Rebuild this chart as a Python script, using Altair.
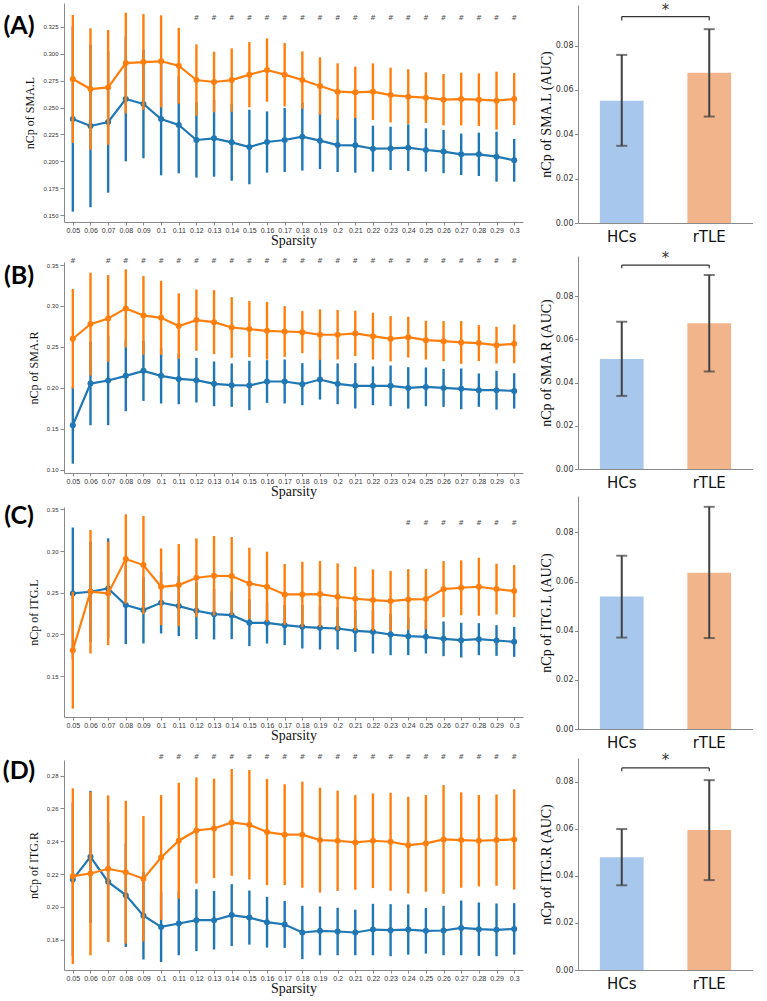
import altair as alt
import pandas as pd

sparsity = ["0.05", "0.06", "0.07", "0.08", "0.09", "0.1", "0.11", "0.12", "0.13",
            "0.14", "0.15", "0.16", "0.17", "0.18", "0.19", "0.2", "0.21", "0.22",
            "0.23", "0.24", "0.25", "0.26", "0.27", "0.28", "0.29", "0.3"]
groups = ["HCs", "rTLE"]

# ---- Panel A : SMA.L ----
a_hc_mean = [0.2394, 0.2329, 0.2366, 0.2579, 0.2533, 0.2394, 0.2338, 0.2199, 0.2214, 0.2177, 0.2134, 0.2180, 0.2199,
             0.2230, 0.2193, 0.2152, 0.2149, 0.2118, 0.2121, 0.2128, 0.2106, 0.2091, 0.2066, 0.2066, 0.2044, 0.2010]
a_hc_err = [0.0860, 0.0754, 0.0656, 0.0578, 0.0504, 0.0523, 0.0448, 0.0349, 0.0356, 0.0356, 0.0346, 0.0284, 0.0297,
            0.0315, 0.0263, 0.0250, 0.0254, 0.0213, 0.0201, 0.0216, 0.0201, 0.0201, 0.0192, 0.0201, 0.0232, 0.0198]
a_tle_mean = [0.2765, 0.2672, 0.2687, 0.2913, 0.2922, 0.2929, 0.2888, 0.2755, 0.2737, 0.2755, 0.2805, 0.2848, 0.2805,
              0.2755, 0.2700, 0.2647, 0.2641, 0.2647, 0.2616, 0.2601, 0.2592, 0.2573, 0.2579, 0.2573, 0.2564, 0.2579]
a_tle_err = [0.0594, 0.0563, 0.0532, 0.0467, 0.0445, 0.0427, 0.0352, 0.0331, 0.0281, 0.0294, 0.0303, 0.0294, 0.0294,
             0.0266, 0.0266, 0.0263, 0.0238, 0.0263, 0.0254, 0.0254, 0.0235, 0.0238, 0.0244, 0.0244, 0.0269, 0.0241]
a_sig = sparsity[7:]
a_bar_mean = [0.0551, 0.0678]
a_bar_lo = [0.0348, 0.0480]
a_bar_hi = [0.0758, 0.0874]

# ---- Panel B : SMA.R ----
b_hc_mean = [0.1542, 0.2052, 0.2089, 0.2146, 0.2207, 0.2146, 0.2109, 0.2093, 0.2048, 0.2032, 0.2028, 0.2077, 0.2077,
             0.2044, 0.2101, 0.2048, 0.2024, 0.2024, 0.2024, 0.1999, 0.2011, 0.1999, 0.1987, 0.1971, 0.1971, 0.1962]
b_hc_err = [0.0469, 0.0510, 0.0546, 0.0432, 0.0367, 0.0338, 0.0310, 0.0273, 0.0273, 0.0265, 0.0302, 0.0261, 0.0269,
            0.0257, 0.0245, 0.0249, 0.0277, 0.0237, 0.0249, 0.0253, 0.0237, 0.0232, 0.0249, 0.0204, 0.0237, 0.0216]
b_tle_mean = [0.2599, 0.2778, 0.2847, 0.2970, 0.2884, 0.2855, 0.2754, 0.2827, 0.2802, 0.2737, 0.2717, 0.2696, 0.2688,
              0.2680, 0.2648, 0.2648, 0.2664, 0.2631, 0.2599, 0.2619, 0.2582, 0.2570, 0.2554, 0.2546, 0.2521, 0.2537]
b_tle_err = [0.0608, 0.0628, 0.0530, 0.0477, 0.0481, 0.0453, 0.0400, 0.0375, 0.0391, 0.0371, 0.0343, 0.0351, 0.0310,
             0.0257, 0.0310, 0.0302, 0.0277, 0.0285, 0.0277, 0.0249, 0.0237, 0.0245, 0.0261, 0.0220, 0.0224, 0.0237]
b_sig = [sparsity[0]] + sparsity[2:]
b_bar_mean = [0.0509, 0.0674]
b_bar_lo = [0.0338, 0.0451]
b_bar_hi = [0.0681, 0.0897]

# ---- Panel C : ITG.L ----
c_hc_mean = [0.2492, 0.2512, 0.2552, 0.2352, 0.2292, 0.2380, 0.2340, 0.2284, 0.2244, 0.2232, 0.2140, 0.2140, 0.2112,
             0.2092, 0.2080, 0.2072, 0.2044, 0.2032, 0.2000, 0.1980, 0.1972, 0.1948, 0.1932, 0.1944, 0.1928, 0.1912]
c_hc_err = [0.0790, 0.0600, 0.0600, 0.0468, 0.0400, 0.0368, 0.0360, 0.0340, 0.0304, 0.0288, 0.0280, 0.0248, 0.0240,
            0.0260, 0.0260, 0.0252, 0.0252, 0.0260, 0.0248, 0.0228, 0.0200, 0.0208, 0.0208, 0.0192, 0.0184, 0.0180]
c_tle_mean = [0.1812, 0.2512, 0.2492, 0.2904, 0.2832, 0.2572, 0.2592, 0.2680, 0.2704, 0.2700, 0.2612, 0.2572, 0.2480,
              0.2480, 0.2484, 0.2452, 0.2428, 0.2412, 0.2400, 0.2420, 0.2424, 0.2544, 0.2560, 0.2572, 0.2544, 0.2520]
c_tle_err = [0.0700, 0.0740, 0.0620, 0.0536, 0.0588, 0.0460, 0.0492, 0.0472, 0.0476, 0.0468, 0.0428, 0.0420, 0.0364,
             0.0392, 0.0396, 0.0400, 0.0384, 0.0368, 0.0360, 0.0364, 0.0360, 0.0336, 0.0328, 0.0348, 0.0304, 0.0312]
c_sig = sparsity[19:]
c_bar_mean = [0.0539, 0.0636]
c_bar_lo = [0.0372, 0.0370]
c_bar_hi = [0.0705, 0.0904]

# ---- Panel D : ITG.R ----
d_hc_mean = [0.2167, 0.2305, 0.2152, 0.2071, 0.1945, 0.1877, 0.1898, 0.1918, 0.1918, 0.1949, 0.1934, 0.1906, 0.1892,
             0.1843, 0.1853, 0.1849, 0.1843, 0.1861, 0.1857, 0.1861, 0.1853, 0.1855, 0.1871, 0.1863, 0.1859, 0.1865]
d_hc_err = [0.0469, 0.0403, 0.0363, 0.0316, 0.0267, 0.0214, 0.0194, 0.0189, 0.0179, 0.0189, 0.0165, 0.0155, 0.0143,
            0.0163, 0.0149, 0.0145, 0.0139, 0.0157, 0.0159, 0.0153, 0.0139, 0.0151, 0.0167, 0.0163, 0.0161, 0.0157]
d_tle_mean = [0.2187, 0.2203, 0.2232, 0.2211, 0.2171, 0.2301, 0.2403, 0.2466, 0.2478, 0.2515, 0.2501, 0.2456, 0.2440,
              0.2440, 0.2407, 0.2403, 0.2393, 0.2403, 0.2397, 0.2376, 0.2387, 0.2411, 0.2407, 0.2403, 0.2407, 0.2411]
d_tle_err = [0.0536, 0.0499, 0.0448, 0.0436, 0.0383, 0.0381, 0.0354, 0.0324, 0.0304, 0.0326, 0.0334, 0.0324, 0.0308,
             0.0324, 0.0320, 0.0306, 0.0289, 0.0289, 0.0299, 0.0295, 0.0295, 0.0332, 0.0291, 0.0279, 0.0279, 0.0306]
d_sig = sparsity[5:]
d_bar_mean = [0.0479, 0.0595]
d_bar_lo = [0.0360, 0.0382]
d_bar_hi = [0.0599, 0.0807]

BLUE = "#1f77b4"
ORANGE = "#ff7f0e"
BAR_COLORS = ["#a7c8ec", "#f1b48b"]
SPINE = "#8a8a8a"
LINE_W = 459
BAR_W = 175


def left_spacer(left):
    # tiny white square fixing the left layout edge of a panel
    return alt.Chart(pd.DataFrame({"a": [0]})).mark_rect(color="white").encode(
        x=alt.value(-left), x2=alt.value(-left + 1), y=alt.value(0), y2=alt.value(1))


def gap(width, height):
    # empty, invisible row used to space the panels vertically
    return alt.Chart(pd.DataFrame({"a": [0]})).mark_rule(opacity=0).encode(
        x=alt.value(0)).properties(width=width, height=height)


def line_panel(letter, hc_m, hc_e, tle_m, tle_e, sig, sig_y, ytitle, ydom, yticks, yfmt, h, letter_y):
    recs = []
    for g, ms, es in (("HCs", hc_m, hc_e), ("rTLE", tle_m, tle_e)):
        for s, m, e in zip(sparsity, ms, es):
            recs.append({"s": s, "g": g, "m": m, "lo": m - e, "hi": m + e})
    df = pd.DataFrame(recs)
    xenc = alt.X("s:O", sort=sparsity, scale=alt.Scale(type="point", padding=0.5),
                 axis=alt.Axis(title="Sparsity", labelAngle=0, labelFont="Liberation Sans", labelFontSize=7,
                               labelColor="#333333", tickSize=3, tickColor=SPINE, domainColor=SPINE,
                               labelPadding=1.5, titleFont="Liberation Serif", titleFontSize=14,
                               titleFontWeight="normal", titleColor="#111111", titlePadding=0, grid=False,
                               zindex=1))
    yscale = alt.Scale(domain=ydom, nice=False, zero=False)
    yaxis = alt.Axis(title=ytitle, values=yticks, format=yfmt, labelFont="Liberation Sans", labelFontSize=6,
                     labelColor="#333333", tickSize=4, tickColor=SPINE, domainColor=SPINE, labelPadding=2,
                     titleFont="Liberation Serif", titleFontSize=12, titleFontWeight="normal",
                     titleColor="#111111", titlePadding=6, grid=False, zindex=1)
    layers = [left_spacer(64)]
    for g, col in zip(groups, [BLUE, ORANGE]):
        base = alt.Chart(df[df.g == g])
        layers.append(base.mark_rule(color=col, strokeWidth=2.4).encode(
            x=xenc, y=alt.Y("lo:Q", scale=yscale, axis=yaxis), y2="hi:Q"))
        layers.append(base.mark_line(color=col, strokeWidth=2.2).encode(
            x=xenc, y=alt.Y("m:Q", scale=yscale, axis=yaxis)))
        layers.append(base.mark_point(color=col, filled=True, size=36, opacity=1).encode(
            x=xenc, y=alt.Y("m:Q", scale=yscale, axis=yaxis)))
    sdf = pd.DataFrame({"s": sig, "y": [sig_y] * len(sig), "t": ["#"] * len(sig)})
    layers.append(alt.Chart(sdf).mark_text(font="DejaVu Sans", fontSize=7, color="#555555",
                                           baseline="middle").encode(
        x=xenc, y=alt.Y("y:Q", scale=yscale, axis=yaxis), text="t:N"))
    layers.append(alt.Chart(pd.DataFrame({"t": [letter]})).mark_text(
        font="Lato", fontSize=25, fontWeight="bold", color="black", align="center", baseline="middle").encode(
        x=alt.value(-45), y=alt.value(letter_y), text="t:N"))
    return alt.layer(*layers).properties(width=LINE_W, height=h)


def bar_panel(means, los, his, ytitle, ydom, h, bracket=None):
    df = pd.DataFrame({"g": groups, "m": means, "lo": los, "hi": his})
    xscale = alt.Scale(domain=groups, paddingInner=0.5, paddingOuter=0.25)
    xaxis = alt.Axis(title=None, labelAngle=0, labelFont="DejaVu Sans", labelFontSize=15, labelColor="#111111",
                     ticks=False, tickSize=0, labelPadding=6, domainColor=SPINE, grid=False, zindex=1)
    xenc = alt.X("g:N", sort=groups, scale=xscale, axis=xaxis)
    yscale = alt.Scale(domain=ydom, nice=False, zero=True)
    yaxis = alt.Axis(title=ytitle, values=[0, 0.02, 0.04, 0.06, 0.08], format=".2f", labelFont="DejaVu Sans",
                     labelFontSize=8, labelColor="#333333", tickSize=3.5, tickColor=SPINE, domainColor=SPINE,
                     labelPadding=1.5, titleFont="Liberation Serif", titleFontSize=14, titleFontWeight="normal",
                     titleColor="#111111", titlePadding=2, grid=False, zindex=1)
    base = alt.Chart(df)
    layers = [left_spacer(40)]
    layers.append(base.mark_bar().encode(
        x=xenc, y=alt.Y("m:Q", scale=yscale, axis=yaxis),
        color=alt.Color("g:N", scale=alt.Scale(domain=groups, range=BAR_COLORS), legend=None)))
    layers.append(base.mark_rule(color="#404040", strokeWidth=2).encode(
        x=xenc, y=alt.Y("lo:Q", scale=yscale, axis=yaxis), y2="hi:Q"))
    for f in ("lo", "hi"):
        layers.append(base.mark_tick(color="#404040", thickness=2, size=11).encode(
            x=xenc, y=alt.Y(f + ":Q", scale=yscale, axis=yaxis)))
    if bracket is not None:
        yb, yend, ystar = bracket
        edf = pd.DataFrame({"g": groups, "y1": [yend, yend], "y2": [yb, yb]})
        layers.append(alt.Chart(edf).mark_rule(color="#333333", strokeWidth=1.2).encode(
            x=xenc, y=alt.Y("y1:Q", scale=yscale, axis=yaxis), y2="y2:Q"))
        tdf = pd.DataFrame({"g": [groups[0]], "g2": [groups[1]], "y": [yb]})
        layers.append(alt.Chart(tdf).mark_rule(color="#333333", strokeWidth=1.2).encode(
            x=xenc, x2="g2:N", y=alt.Y("y:Q", scale=yscale, axis=yaxis)))
        sdf = pd.DataFrame({"t": ["*"], "y": [ystar]})
        layers.append(alt.Chart(sdf).mark_text(font="DejaVu Sans", fontSize=15, color="#333333",
                                               baseline="middle").encode(
            x=alt.value(BAR_W / 2), y=alt.Y("y:Q", scale=yscale, axis=yaxis), text="t:N"))
    return alt.layer(*layers).properties(width=BAR_W, height=h)


lineA = line_panel("(A)", a_hc_mean, a_hc_err, a_tle_mean, a_tle_err, a_sig, 0.3327, "nCp of SMA.L",
                   [0.1438, 0.347], [0.150, 0.175, 0.200, 0.225, 0.250, 0.275, 0.300, 0.325], ".3f", 219, 23)
lineB = line_panel("(B)", b_hc_mean, b_hc_err, b_tle_mean, b_tle_err, b_sig, 0.355, "nCp of SMA.R",
                   [0.0959, 0.3537], [0.10, 0.15, 0.20, 0.25, 0.30, 0.35], ".2f", 211, 14)
lineC = line_panel("(C)", c_hc_mean, c_hc_err, c_tle_mean, c_tle_err, c_sig, 0.3332, "nCp of ITG.L",
                   [0.1011, 0.3528], [0.15, 0.20, 0.25, 0.30, 0.35], ".2f", 210, 9)
lineD = line_panel("(D)", d_hc_mean, d_hc_err, d_tle_mean, d_tle_err, d_sig, 0.2916, "nCp of ITG.R",
                   [0.1614, 0.2896], [0.18, 0.20, 0.22, 0.24, 0.26, 0.28], ".2f", 210, 11)

barA = bar_panel(a_bar_mean, a_bar_lo, a_bar_hi, "nCp of SMA.L (AUC)", [0, 0.0983], 218,
                 (0.0931, 0.0913, 0.0961))
barB = bar_panel(b_bar_mean, b_bar_lo, b_bar_hi, "nCp of SMA.R (AUC)", [0, 0.0985], 213,
                 (0.0943, 0.0928, 0.0974))
barC = bar_panel(c_bar_mean, c_bar_lo, c_bar_hi, "nCp of ITG.L (AUC)", [0, 0.0948], 233)
barD = bar_panel(d_bar_mean, d_bar_lo, d_bar_hi, "nCp of ITG.R (AUC)", [0, 0.0901], 212,
                 (0.0859, 0.0845, 0.0892))

left = alt.vconcat(gap(LINE_W, 3), lineA, gap(LINE_W, 40), lineB, gap(LINE_W, 34), lineC,
                   gap(LINE_W, 43), lineD, spacing=0, bounds="flush")
right = alt.vconcat(gap(BAR_W, 5), barA, gap(BAR_W, 33), barB, gap(BAR_W, 27), barC,
                    gap(BAR_W, 29), barD, spacing=0, bounds="flush")

chart = alt.hconcat(left, right, spacing=15).properties(
    padding={"left": 0, "top": 0, "right": 0, "bottom": 0}
).configure(background="white").configure_view(stroke="transparent", strokeWidth=0)

chart.save("out.html", embed_options={"renderer": "svg", "actions": False})
